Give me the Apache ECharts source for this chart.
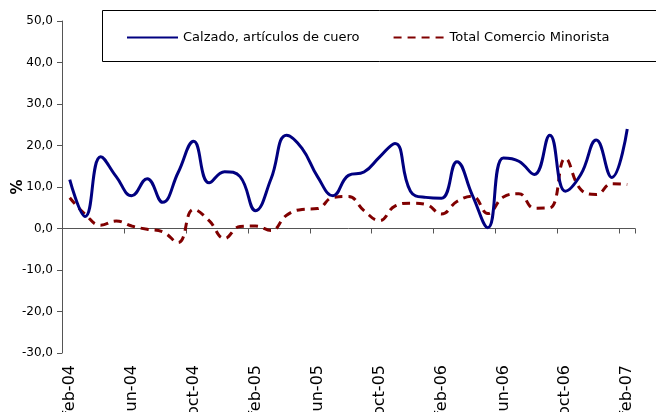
<!DOCTYPE html>
<html>
<head>
<meta charset="utf-8">
<script src="https://cdn.jsdelivr.net/npm/echarts@6/dist/echarts.min.js"></script>
<style>
  html, body { margin: 0; padding: 0; background: #fff; }
  #chart { width: 656px; height: 412px; }
</style>
</head>
<body>
<div id="chart"></div>
<script>
// meses (feb-04 .. feb-07)
var meses = [
  'feb-04', 'mar-04', 'abr-04', 'may-04', 'jun-04', 'jul-04', 'ago-04', 'sep-04', 'oct-04', 'nov-04', 'dic-04',
  'ene-05', 'feb-05', 'mar-05', 'abr-05', 'may-05', 'jun-05', 'jul-05', 'ago-05', 'sep-05', 'oct-05', 'nov-05', 'dic-05',
  'ene-06', 'feb-06', 'mar-06', 'abr-06', 'may-06', 'jun-06', 'jul-06', 'ago-06', 'sep-06', 'oct-06', 'nov-06', 'dic-06',
  'ene-07', 'feb-07'
]

// variacion % Calzado, articulos de cuero
var calzado = [
  11.8, 2.9, 17.3, 12.5, 7.9, 12.0, 6.3, 13.5, 21.0, 11.0, 13.7,
  12.5, 4.3, 12.0, 22.5, 19.3, 12.5, 7.9, 12.8, 13.6, 17.2, 20.5, 9.0,
  7.5, 7.3, 16.1, 8.0, 0.2, 17.0, 16.2, 13.0, 22.5, 9.0, 13.0, 21.3,
  12.3, 24.0
]

// variacion % Total Comercio Minorista
var totalComercio = [
  7.4, 3.4, 0.8, 1.8, 0.6, -0.2, -0.8, -3.4, 4.6, 1.9, -2.4,
  0.5, 0.6, -0.5, 3.2, 4.6, 4.8, 7.5, 7.7, 4.3, 1.9, 5.4, 6.1,
  5.8, 3.5, 6.5, 7.8, 3.6, 7.6, 8.4, 4.9, 5.0, 16.9, 9.4, 8.2,
  10.8, 10.6
]

var yMin = -30
var yMax = 50
var yPaso = 10

var chart = echarts.init(document.getElementById('chart'))

var option = {
  animation: false,
  backgroundColor: '#fff',
  textStyle: {
    fontFamily: 'DejaVu Sans',
    color: '#000'
  },
  grid: {
    left: 62,
    right: 21,
    top: 21,
    bottom: 59,
    containLabel: false,
    outerBoundsMode: 'none'
  },
  // marco de la leyenda
  graphic: [
    {
      type: 'rect',
      shape: { x: 102.5, y: 10.5, width: 600, height: 51 },
      style: { fill: '#fff', stroke: '#000', lineWidth: 1 },
      z: 0
    }
  ],
  legend: {
    left: 121,
    top: 26,
    itemWidth: 51,
    itemHeight: 14,
    itemGap: 33,
    z: 10,
    itemStyle: { opacity: 0 },
    textStyle: {
      fontFamily: 'DejaVu Sans',
      fontSize: 13,
      color: '#000'
    },
    data: ['Calzado, artículos de cuero', 'Total Comercio Minorista']
  },
  xAxis: [
    {
      // eje en el cero, solo linea y marcas
      type: 'category',
      data: meses,
      boundaryGap: true,
      position: 'bottom',
      axisLine: {
        onZero: true,
        lineStyle: { color: '#555', width: 1 }
      },
      axisTick: {
        show: true,
        interval: 3,
        length: 5,
        lineStyle: { color: '#555' }
      },
      axisLabel: { show: false },
      splitLine: { show: false }
    },
    {
      // etiquetas abajo
      type: 'category',
      data: meses,
      boundaryGap: true,
      position: 'bottom',
      axisLine: { show: false, onZero: false },
      axisTick: { show: false },
      axisLabel: {
        interval: 3,
        rotate: 90,
        margin: 12,
        fontSize: 16,
        fontFamily: 'DejaVu Sans',
        color: '#000'
      },
      splitLine: { show: false }
    }
  ],
  yAxis: {
    type: 'value',
    min: yMin,
    max: yMax,
    interval: yPaso,
    name: '%',
    nameLocation: 'middle',
    nameRotate: 90,
    nameGap: 36,
    nameMoveOverlap: false,
    nameTextStyle: {
      fontFamily: 'DejaVu Sans',
      fontSize: 15,
      fontWeight: 'bold',
      color: '#000'
    },
    axisLine: {
      show: true,
      lineStyle: { color: '#555', width: 1 }
    },
    axisTick: {
      show: true,
      length: 5,
      lineStyle: { color: '#555' }
    },
    axisLabel: {
      margin: 9,
      fontSize: 12,
      color: '#000',
      formatter: function (v) {
        return v.toFixed(1).replace('.', ',')
      }
    },
    splitLine: { show: false }
  },
  series: [
    {
      name: 'Calzado, artículos de cuero',
      type: 'line',
      xAxisIndex: 0,
      data: calzado,
      smooth: 0.45,
      symbol: 'none',
      z: 3,
      lineStyle: { color: '#000080', width: 3 },
      itemStyle: { color: '#000080' }
    },
    {
      name: 'Total Comercio Minorista',
      type: 'line',
      xAxisIndex: 0,
      data: totalComercio,
      smooth: 0.45,
      symbol: 'none',
      z: 2,
      lineStyle: { color: '#800000', width: 3, type: [8, 6] },
      itemStyle: { color: '#800000' }
    }
  ]
}

chart.setOption(option)
</script>
</body>
</html>
